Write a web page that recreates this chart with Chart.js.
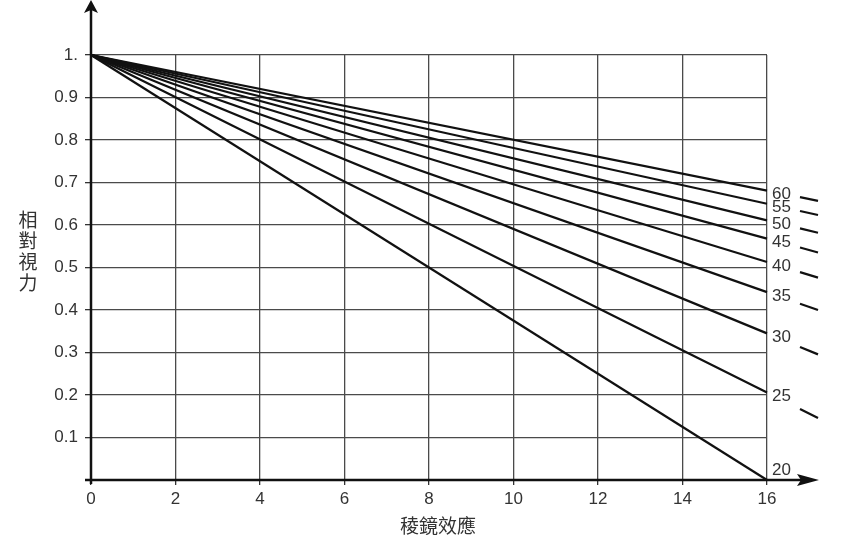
<!DOCTYPE html>
<html>
<head>
<meta charset="utf-8">
<script src="https://cdn.jsdelivr.net/npm/chart.js@4"></script>
<style>
  html, body { margin: 0; padding: 0; background: #fff; }
  #wrap { width: 857px; height: 547px; position: relative; }
</style>
</head>
<body>
<div id="wrap"><canvas id="chart"></canvas></div>
<script>
// values
const prismStart = 0;
const prismEnd = 16;
const curveLabels = ['20', '25', '30', '35', '40', '45', '50', '55', '60'];
const visionAtStart = [1, 1, 1, 1, 1, 1, 1, 1, 1];
const visionAtEnd = [0, 0.206, 0.345, 0.442, 0.513, 0.568, 0.611, 0.650, 0.681];
const xTickValues = [0, 2, 4, 6, 8, 10, 12, 14, 16];
const xTickLabels = ['0', '2', '4', '6', '8', '10', '12', '14', '16'];
const yTickValues = [0, 0.1, 0.2, 0.3, 0.4, 0.5, 0.6, 0.7, 0.8, 0.9, 1];
const yTickLabels = ['', '0.1', '0.2', '0.3', '0.4', '0.5', '0.6', '0.7', '0.8', '0.9', '1.'];
const yTitle = '相對視力';
const xTitle = '稜鏡效應';

const latinFont = "'Liberation Sans', Arial, sans-serif";
const cjkFont = "'Noto Sans CJK TC', 'Noto Sans CJK SC', sans-serif";
const textColor = '#333';

const datasets = curveLabels.map((lab, i) => ({
  label: lab,
  data: [
    { x: prismStart, y: visionAtStart[i] },
    { x: prismEnd, y: visionAtEnd[i] }
  ],
  borderColor: '#111',
  borderWidth: 2.2,
  pointRadius: 0,
  showLine: true,
  clip: false
}));

// axes with arrows, curve labels, little dashes beyond the frame, titles
const decorations = {
  id: 'decorations',
  afterDatasetsDraw(chart) {
    const { ctx, chartArea, scales } = chart;
    const xs = scales.x, ys = scales.y;
    const x0 = xs.getPixelForValue(0);
    const y0 = ys.getPixelForValue(0);
    const xEnd = xs.getPixelForValue(prismEnd);
    ctx.save();

    // curve labels and extrapolated dashes
    ctx.font = '17px ' + latinFont;
    ctx.fillStyle = textColor;
    ctx.textAlign = 'left';
    ctx.textBaseline = 'middle';
    curveLabels.forEach((lab, i) => {
      const ya = ys.getPixelForValue(visionAtStart[i]);
      const yb = ys.getPixelForValue(visionAtEnd[i]);
      const slope = (yb - ya) / (xEnd - xs.getPixelForValue(prismStart));
      let ty = yb + 4;
      if (ty > y0 - 10) ty = y0 - 10;
      ctx.fillText(lab, xEnd + 5, ty);
      if (visionAtEnd[i] > 0) {
        const d1 = 33, d2 = 51;
        ctx.beginPath();
        ctx.strokeStyle = '#111';
        ctx.lineWidth = 2.2;
        ctx.moveTo(xEnd + d1, yb + slope * d1);
        ctx.lineTo(xEnd + d2, yb + slope * d2);
        ctx.stroke();
      }
    });

    // axes
    ctx.strokeStyle = '#111';
    ctx.fillStyle = '#111';
    ctx.lineWidth = 2.5;
    ctx.beginPath();
    ctx.moveTo(x0, y0 + 4);
    ctx.lineTo(x0, 8);
    ctx.moveTo(x0 - 6, y0);
    ctx.lineTo(xEnd + 35, y0);
    ctx.stroke();
    // arrow heads
    ctx.beginPath();
    ctx.moveTo(x0, 0);
    ctx.lineTo(x0 - 7, 13);
    ctx.lineTo(x0, 10);
    ctx.lineTo(x0 + 7, 13);
    ctx.closePath();
    ctx.fill();
    ctx.beginPath();
    ctx.moveTo(xEnd + 52, y0);
    ctx.lineTo(xEnd + 30, y0 - 6);
    ctx.lineTo(xEnd + 34, y0);
    ctx.lineTo(xEnd + 30, y0 + 6);
    ctx.closePath();
    ctx.fill();

    // titles
    ctx.fillStyle = textColor;
    ctx.font = '19px ' + cjkFont;
    ctx.textAlign = 'center';
    ctx.textBaseline = 'middle';
    const midY = (chartArea.top + chartArea.bottom) / 2;
    const chars = Array.from(yTitle);
    chars.forEach((c, k) => {
      ctx.fillText(c, 28, midY - 16 + (k - (chars.length - 1) / 2) * 21);
    });
    ctx.fillText(xTitle, (chartArea.left + chartArea.right) / 2 + 9, 526);
    ctx.restore();
  }
};

new Chart(document.getElementById('chart'), {
  type: 'scatter',
  data: { datasets },
  options: {
    responsive: true,
    maintainAspectRatio: false,
    animation: false,
    layout: { padding: { top: 55, right: 90, left: 0, bottom: 0 } },
    plugins: {
      legend: { display: false },
      tooltip: { enabled: false }
    },
    scales: {
      x: {
        type: 'linear',
        min: prismStart,
        max: prismEnd,
        afterFit: s => { s.height = 67; },
        afterBuildTicks: s => { s.ticks = xTickValues.map(v => ({ value: v })); },
        border: { display: false },
        grid: {
          color: ctx => ctx.tick && ctx.tick.value === 0 ? 'rgba(0,0,0,0)' : '#4a4a4a',
          lineWidth: 1.3,
          tickLength: 5,
          tickColor: '#333'
        },
        ticks: {
          padding: 4,
          color: textColor,
          font: { family: latinFont, size: 17 },
          maxRotation: 0,
          callback: (v, i) => xTickLabels[i]
        }
      },
      y: {
        min: 0,
        max: 1,
        afterFit: s => { s.width = 91; },
        afterBuildTicks: s => { s.ticks = yTickValues.map(v => ({ value: v })); },
        border: { display: false },
        grid: {
          color: ctx => ctx.tick && ctx.tick.value === 0 ? 'rgba(0,0,0,0)' : '#4a4a4a',
          lineWidth: 1.3,
          tickLength: 6,
          tickColor: '#333'
        },
        ticks: {
          padding: 7,
          color: textColor,
          font: { family: latinFont, size: 17 },
          callback: (v, i) => yTickLabels[i]
        }
      }
    }
  },
  plugins: [decorations]
});
</script>
</body>
</html>
